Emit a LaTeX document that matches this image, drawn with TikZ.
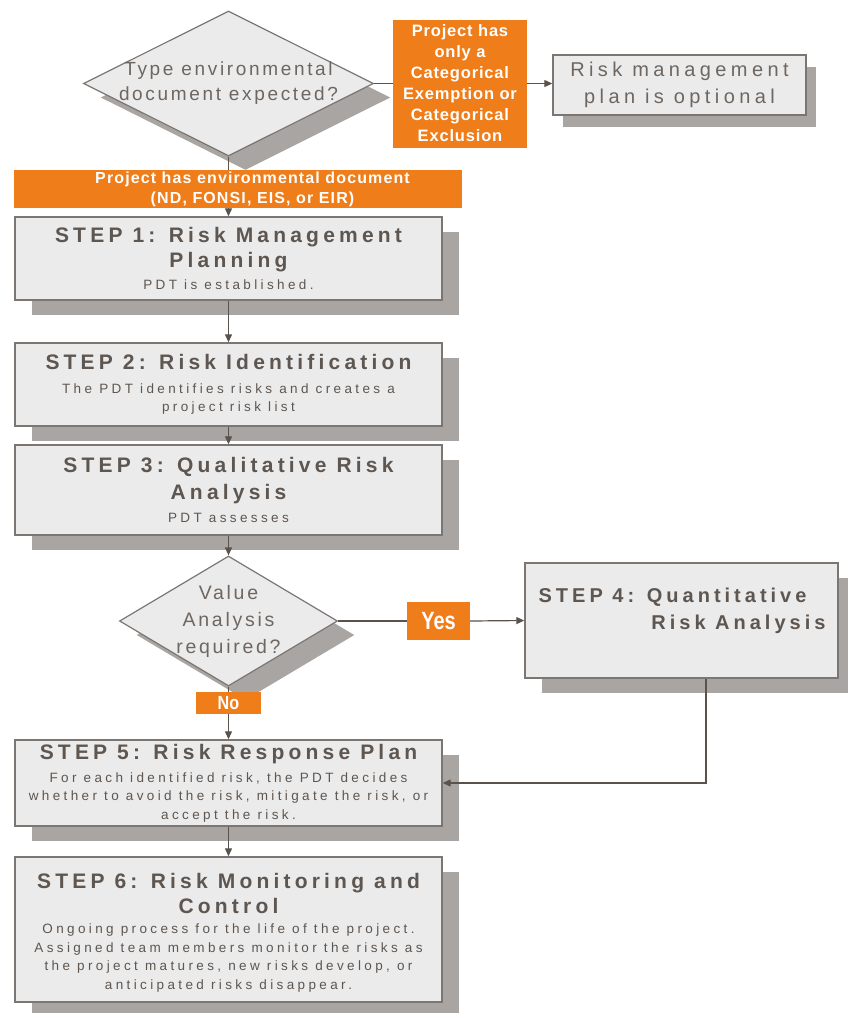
\documentclass[tikz,border=0pt]{standalone}
\usepackage{fontspec}
\setmainfont{Liberation Sans}
\usetikzlibrary{shapes.geometric,arrows.meta,shadows}
\newfontfamily\ttlfont[LetterSpace=20]{Liberation Sans}
\newfontfamily\subfont[LetterSpace=25]{Liberation Sans}
\newfontfamily\qfont[LetterSpace=14]{Liberation Sans}
\newfontfamily\optfont[LetterSpace=22]{Liberation Sans}
\newfontfamily\orgfont[LetterSpace=5]{Liberation Sans}
\newfontfamily\banfont[LetterSpace=7]{Liberation Sans}
\definecolor{org}{HTML}{EE7D1A}
\definecolor{boxfill}{HTML}{EBEBEB}
\definecolor{boxline}{HTML}{7C7672}
\definecolor{shad}{HTML}{A8A5A2}
\definecolor{txt}{HTML}{5E5650}
\definecolor{subtxt}{HTML}{6E6660}
\definecolor{conn}{HTML}{5A524C}
\newcommand{\ttl}{\ttlfont\bfseries\fontsize{21}{25}\selectfont}
\newcommand{\sbt}{\subfont\mdseries\fontsize{13.5}{18.5}\selectfont}
\tikzset{
  stepbox/.style={rectangle, draw=boxline, line width=1.4pt, fill=boxfill, inner sep=0pt,
    align=center, text=txt, minimum width=427pt, font=\sbt,
    drop shadow={shadow xshift=17pt, shadow yshift=-15pt, fill=shad, opacity=1}},
  decision/.style={diamond, draw=boxline, line width=1.2pt, fill=boxfill, inner sep=0pt,
    drop shadow={shadow xshift=17pt, shadow yshift=-14pt, fill=shad, opacity=1}},
  orangebox/.style={rectangle, fill=org, text=white, inner sep=0pt, align=center,
    font=\bfseries},
  qtext/.style={align=center, text=subtxt, inner sep=0pt},
  conn/.style={draw=conn, line width=1.2pt},
  arr/.style={conn, -{Triangle[length=8pt,width=7pt]}},
}
\begin{document}
\begin{tikzpicture}[x=1pt,y=-1pt]
\useasboundingbox (0,0) rectangle (848,1013);

% decision 1
\node[decision, minimum width=290pt, minimum height=145pt] (d1) at (228.5,83.5) {};
\node[qtext, font=\qfont\fontsize{19}{25}\selectfont] (d1t) at (d1.center) {Type environmental\\document expected?};

% orange: categorical
\node[orangebox, minimum width=134pt, minimum height=128pt,
  font=\orgfont\bfseries\fontsize{16.5}{21}\selectfont] (o1) at (460,83.5)
  {Project has\\only a\\Categorical\\Exemption or\\Categorical\\Exclusion};

% optional box
\node[rectangle, draw=boxline, line width=1.4pt, fill=boxfill, inner sep=0pt,
  minimum width=253pt, minimum height=60pt, align=center, text=subtxt,
  font=\optfont\fontsize{20}{27}\selectfont,
  drop shadow={shadow xshift=10pt, shadow yshift=-12pt, fill=shad, opacity=1}]
  (opt) at (679.5,85) {Risk management\\plan is optional};

% steps
\node[stepbox, minimum height=83pt] (s1) at (228.5,258.5)
  {\ttl STEP 1: Risk Management\\[4.5pt]\ttl Planning\\[4pt]PDT is established.};
\node[stepbox, minimum height=83pt] (s2) at (228.5,384.5)
  {\ttl STEP 2: Risk Identification\\[5pt]The PDT identifies risks and creates a\\project risk list};
\node[stepbox, minimum height=90pt] (s3) at (228.5,490)
  {\ttl STEP 3: Qualitative Risk\\[7pt]\ttl Analysis\\[5pt]PDT assesses};

% decision 2
\node[decision, minimum width=218pt, minimum height=130pt] (d2) at (228.5,621) {};
\node[qtext, font=\qfont\fontsize{19.5}{27}\selectfont] (d2t) at (d2.center) {Value\\Analysis\\required?};

% step 4
\node[stepbox, minimum width=313pt, minimum height=115pt] (s4) at (681.5,620.5) {};
\node[anchor=north east, align=right, text=txt, inner sep=0pt,
  font=\ttlfont\bfseries\fontsize{20}{27}\selectfont] (s4t) at ([shift={(-13,25.5)}]s4.north east)
  {STEP 4: Quantitative\hspace*{19pt}\\Risk Analysis};

% yes / no
\node[orangebox, minimum width=63pt, minimum height=38pt] (yes) at (438.5,621)
  {\scalebox{0.8}[1]{\fontsize{25}{25}\selectfont Yes}};
\node[orangebox, minimum width=65pt, minimum height=22pt] (no) at (228.5,703)
  {\scalebox{0.85}[1]{\fontsize{19}{19}\selectfont No}};

% steps 5, 6
\node[stepbox, minimum height=86pt] (s5) at (228.5,783)
  {\ttl STEP 5: Risk Response Plan\\[4.5pt]For each identified risk, the PDT decides\\whether to avoid the risk, mitigate the risk, or\\accept the risk.};
\node[stepbox, minimum height=145pt] (s6) at (228.5,929.5)
  {\rule{0pt}{21pt}\ttl STEP 6: Risk Monitoring and\\[5pt]\ttl Control\\[1.5pt]Ongoing process for the life of the project.\\Assigned team members monitor the risks as\\the project matures, new risks develop, or\\anticipated risks disappear.};

% connectors
\draw[conn] (d1.east) -- (o1.west);
\draw[arr] (o1.east) -- (o1.east -| opt.west);
\draw[arr] (d1.south) -- (s1.north);
\draw[arr] (s1.south) -- (s2.north);
\draw[arr] (s2.south) -- (s3.north);
\draw[arr] (s3.south) -- (d2.north);
\draw[conn] (d2.east) -- (yes.west);
\draw[arr] (yes.east) -- (s4.west);
\draw[conn] (d2.south) -- (no.north);
\draw[arr] (no.south) -- (s5.north);
\draw[arr] ([xshift=24.5pt]s4.south) |- (s5.east);
\draw[arr] (s5.south) -- (s6.north);

% banner (over the connector)
\node[orangebox, minimum width=448pt, minimum height=38pt] (ban) at (237.5,189) {};
\node[inner sep=0pt, align=center, text=white,
  font=\banfont\bfseries\fontsize{16}{20}\selectfont] (bant) at ([xshift=15pt]ban.center)
  {Project has environmental document\\(ND, FONSI, EIS, or EIR)};
\end{tikzpicture}
\end{document}
